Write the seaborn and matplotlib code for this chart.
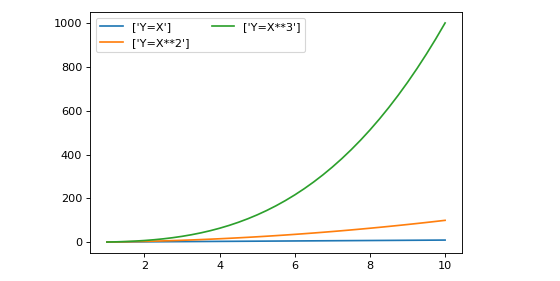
import matplotlib
matplotlib.use("Agg")
import matplotlib.pyplot as plt
import seaborn as sns
import pandas as pd

x_vals = [1.0, 1.25, 1.5, 1.75, 2.0, 2.25, 2.5, 2.75, 3.0, 3.25, 3.5, 3.75, 4.0, 4.25, 4.5, 4.75,
          5.0, 5.25, 5.5, 5.75, 6.0, 6.25, 6.5, 6.75, 7.0, 7.25, 7.5, 7.75, 8.0, 8.25, 8.5, 8.75,
          9.0, 9.25, 9.5, 9.75, 10.0]
y_lin = [1.0, 1.25, 1.5, 1.75, 2.0, 2.25, 2.5, 2.75, 3.0, 3.25, 3.5, 3.75, 4.0, 4.25, 4.5, 4.75,
         5.0, 5.25, 5.5, 5.75, 6.0, 6.25, 6.5, 6.75, 7.0, 7.25, 7.5, 7.75, 8.0, 8.25, 8.5, 8.75,
         9.0, 9.25, 9.5, 9.75, 10.0]
y_sq = [1.0, 1.56, 2.25, 3.06, 4.0, 5.06, 6.25, 7.56, 9.0, 10.56, 12.25, 14.06, 16.0, 18.06, 20.25, 22.56,
        25.0, 27.56, 30.25, 33.06, 36.0, 39.06, 42.25, 45.56, 49.0, 52.56, 56.25, 60.06, 64.0, 68.06, 72.25, 76.56,
        81.0, 85.56, 90.25, 95.06, 100.0]
y_cube = [1.0, 1.95, 3.38, 5.36, 8.0, 11.39, 15.63, 20.8, 27.0, 34.33, 42.88, 52.73, 64.0, 76.77, 91.13, 107.17,
          125.0, 144.7, 166.38, 190.11, 216.0, 244.14, 274.63, 307.55, 343.0, 381.08, 421.88, 465.48, 512.0, 561.52, 614.13, 669.92,
          729.0, 791.45, 857.38, 926.86, 1000.0]
series_names = ["['Y=X']", "['Y=X**2']", "['Y=X**3']"]

rows = []
for name, ys in zip(series_names, [y_lin, y_sq, y_cube]):
    for xv, yv in zip(x_vals, ys):
        rows.append({"x": xv, "y": yv, "series": name})
df = pd.DataFrame(rows)

DPI = 81
fig, ax = plt.subplots(figsize=(560 / DPI, 281 / DPI), dpi=DPI)
fig.subplots_adjust(left=90/560, right=462/560, bottom=1-253/281, top=1-12/281)
sns.lineplot(data=df, x="x", y="y", hue="series", palette=["#1f77b4", "#ff7f0e", "#2ca02c"], ax=ax)
ax.set_xlabel("")
ax.set_ylabel("")
ax.set_xticks([2, 4, 6, 8, 10])
ax.legend(ncol=2, loc="upper left")
fig.savefig("out.png", dpi=DPI)
